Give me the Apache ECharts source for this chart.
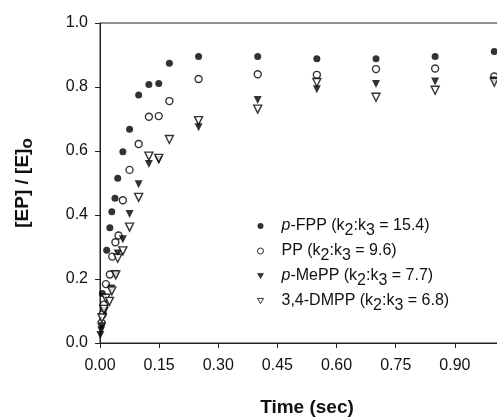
<!DOCTYPE html>
<html><head><meta charset="utf-8">
<script src="https://cdn.jsdelivr.net/npm/echarts@6/dist/echarts.min.js"></script>
<style>html,body{margin:0;padding:0;background:#fff}#c{width:497px;height:418px}</style>
</head><body><div id="c"></div>
<script>
// ---- data ----
const xTickInterval = 0.15;
const yTickInterval = 0.2;

const fppTime  = [0.006, 0.017, 0.025, 0.030, 0.038, 0.045, 0.058, 0.075, 0.098, 0.124, 0.149, 0.176, 0.25, 0.40, 0.55, 0.70, 0.85, 1.00];
const fppValue = [0.155, 0.290, 0.360, 0.410, 0.452, 0.515, 0.598, 0.668, 0.775, 0.808, 0.811, 0.874, 0.895, 0.895, 0.888, 0.888, 0.895, 0.911];

const ppTime  = [0.004, 0.007, 0.010, 0.015, 0.025, 0.031, 0.039, 0.047, 0.058, 0.075, 0.098, 0.124, 0.149, 0.176, 0.25, 0.40, 0.55, 0.70, 0.85, 1.00];
const ppValue = [0.063, 0.090, 0.120, 0.184, 0.214, 0.270, 0.315, 0.336, 0.446, 0.541, 0.622, 0.707, 0.709, 0.756, 0.825, 0.840, 0.838, 0.856, 0.858, 0.833];

const meppTime  = [0.001, 0.003, 0.005, 0.012, 0.029, 0.039, 0.045, 0.058, 0.075, 0.098, 0.124, 0.149, 0.25, 0.40, 0.55, 0.70, 0.85, 1.00];
const meppValue = [0.025, 0.040, 0.052, 0.100, 0.170, 0.216, 0.280, 0.324, 0.403, 0.496, 0.559, 0.572, 0.674, 0.759, 0.793, 0.809, 0.817, 0.820];

const dmppTime  = [0.005, 0.010, 0.015, 0.024, 0.030, 0.040, 0.045, 0.058, 0.075, 0.098, 0.124, 0.149, 0.176, 0.25, 0.40, 0.55, 0.70, 0.85, 1.00];
const dmppValue = [0.078, 0.105, 0.140, 0.130, 0.163, 0.213, 0.265, 0.288, 0.362, 0.455, 0.584, 0.577, 0.636, 0.695, 0.731, 0.814, 0.768, 0.790, 0.815];

const seriesNames = ['p-FPP', 'PP', 'p-MePP', '3,4-DMPP'];
const legendLabels = {
  'p-FPP':    '{it|p}{n|-FPP (k}{s|2}{n|:k}{s|3}{n| = 15.4)}',
  'PP':       '{n|PP (k}{s|2}{n|:k}{s|3}{n| = 9.6)}',
  'p-MePP':   '{it|p}{n|-MePP (k}{s|2}{n|:k}{s|3}{n| = 7.7)}',
  '3,4-DMPP': '{n|3,4-DMPP (k}{s|2}{n|:k}{s|3}{n| = 6.8)}'
};

function pairs(t, v) { return t.map((x, i) => [x, v[i]]); }

const FONT = 'Liberation Sans, Arial, sans-serif';
const INK = '#111';
const DOWN_TRIANGLE = 'path://M0,0L10,0L5,8.66Z';

const chart = echarts.init(document.getElementById('c'), null, { renderer: 'canvas' });
chart.setOption({
  animation: false,
  backgroundColor: '#fff',
  textStyle: { fontFamily: FONT, color: INK },
  grid: {
    left: 100, top: 23, width: 414, height: 320,
    containLabel: false, outerBoundsMode: 'none',
    show: true, borderColor: '#222', borderWidth: 1, backgroundColor: 'transparent'
  },
  xAxis: {
    type: 'value', min: 0, max: 1.05, interval: xTickInterval,
    name: 'Time (sec)', nameLocation: 'middle', nameGap: 55,
    nameTextStyle: { fontFamily: FONT, fontWeight: 'bold', fontSize: 19, color: INK },
    axisLine: { show: true, lineStyle: { color: '#222', width: 1 } },
    axisTick: { show: true, inside: false, length: 5, lineStyle: { color: '#222' } },
    axisLabel: { margin: 15, fontFamily: FONT, fontSize: 16, color: INK, formatter: v => v.toFixed(2) },
    splitLine: { show: false }
  },
  yAxis: {
    type: 'value', min: 0, max: 1, interval: yTickInterval,
    name: '{b|[EP] / [E]}{sb|o}', nameLocation: 'middle', nameGap: 64, nameRotate: 90,
    nameTextStyle: {
      rich: {
        b: { fontFamily: FONT, fontWeight: 'bold', fontSize: 19, color: INK },
        sb: { fontFamily: FONT, fontWeight: 'bold', fontSize: 17, color: INK, padding: [10, 0, 0, 0] }
      }
    },
    axisLine: { show: true, lineStyle: { color: '#222', width: 1 } },
    axisTick: { show: true, inside: false, length: 5, lineStyle: { color: '#222' } },
    axisLabel: { margin: 12, fontFamily: FONT, fontSize: 16, color: INK, formatter: v => v.toFixed(1) },
    splitLine: { show: false }
  },
  legend: {
    orient: 'vertical', left: 252, top: 213, itemGap: 4,
    itemWidth: 6, itemHeight: 6,
    data: [
      { name: 'p-FPP', icon: 'circle' },
      { name: 'PP', icon: 'circle', itemStyle: { borderWidth: 1 } },
      { name: 'p-MePP', icon: DOWN_TRIANGLE, itemStyle: { borderWidth: 0.6 } },
      { name: '3,4-DMPP', icon: DOWN_TRIANGLE, itemStyle: { borderWidth: 1 } }
    ],
    formatter: name => legendLabels[name],
    textStyle: {
      fontFamily: FONT, fontSize: 16, color: INK, padding: [0, 0, 0, 13],
      rich: {
        n:  { fontFamily: FONT, fontSize: 16, color: INK },
        it: { fontFamily: FONT, fontSize: 16, color: INK, fontStyle: 'italic' },
        s:  { fontFamily: FONT, fontSize: 16, color: INK, padding: [10, 0, 0, 0] }
      }
    }
  },
  series: [
    { name: 'p-FPP', type: 'scatter', data: pairs(fppTime, fppValue), symbol: 'circle', symbolSize: 7,
      itemStyle: { color: '#000', borderColor: '#000', borderWidth: 0 } },
    { name: 'PP', type: 'scatter', data: pairs(ppTime, ppValue), symbol: 'circle', symbolSize: 7,
      itemStyle: { color: '#fff', borderColor: '#000', borderWidth: 1.4 } },
    { name: 'p-MePP', type: 'scatter', data: pairs(meppTime, meppValue), symbol: 'triangle', symbolRotate: 180, symbolSize: 8,
      itemStyle: { color: '#000', borderColor: '#000', borderWidth: 0 } },
    { name: '3,4-DMPP', type: 'scatter', data: pairs(dmppTime, dmppValue), symbol: 'triangle', symbolRotate: 180, symbolSize: 8,
      itemStyle: { color: '#fff', borderColor: '#000', borderWidth: 1.4 } }
  ]
});
</script>
</body></html>
